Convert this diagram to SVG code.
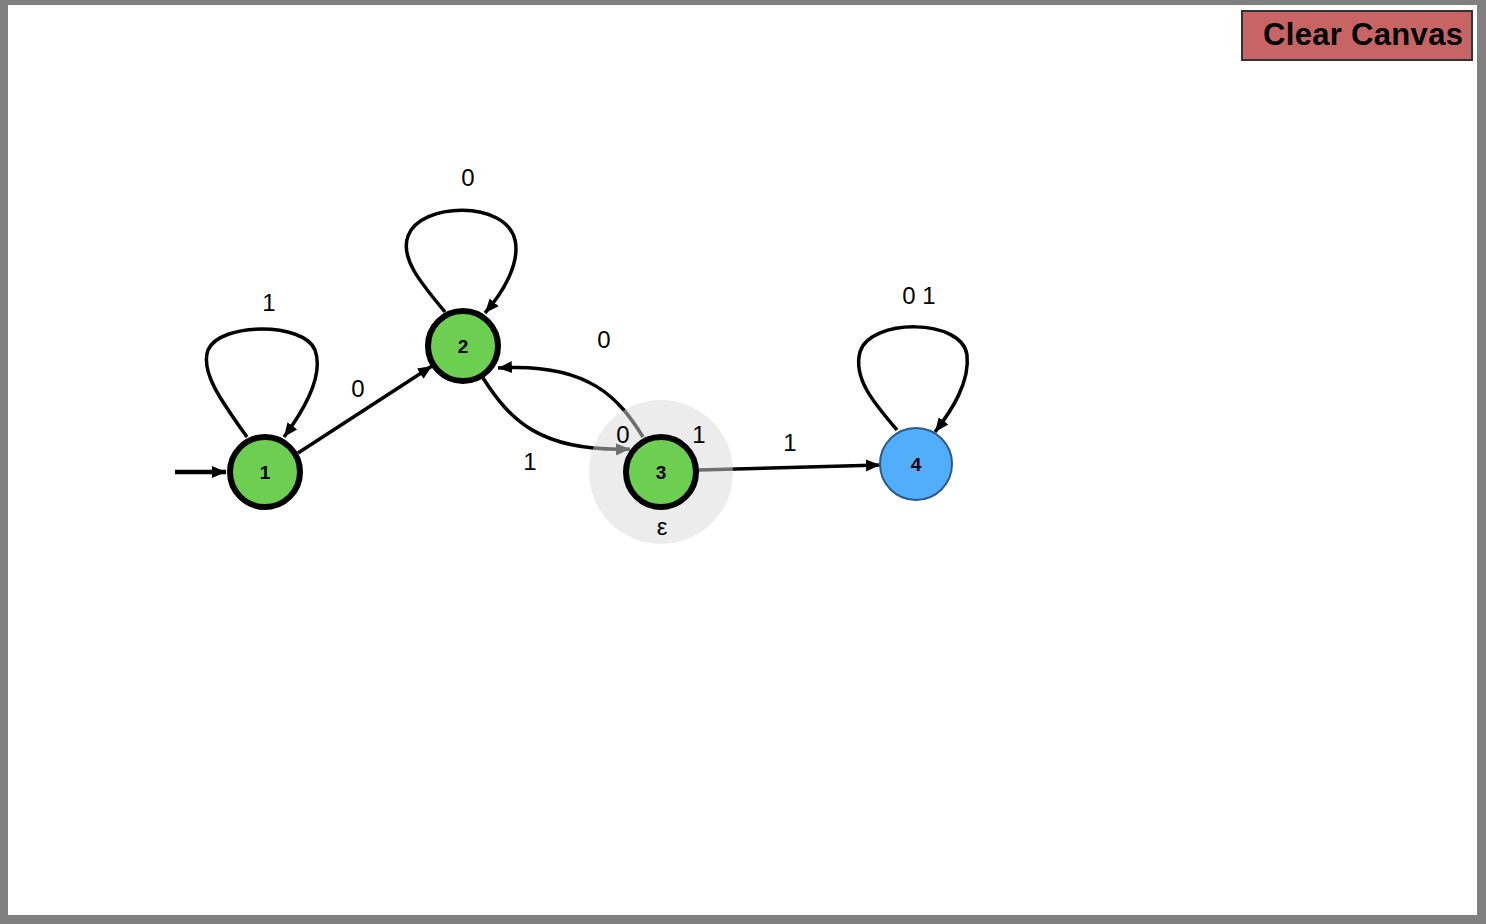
<svg xmlns="http://www.w3.org/2000/svg" width="1486" height="924" viewBox="0 0 1486 924">
<style>
.edge{fill:none;stroke:#000;stroke-width:3.5;marker-end:url(#ah)}
.elbl{font-family:"Liberation Sans",Arial,sans-serif;font-size:24px;fill:#000;text-anchor:middle}
.state{fill:#6ccf52;stroke:#000;stroke-width:6}
.nlbl{font-family:"Liberation Sans",Arial,sans-serif;font-size:19px;font-weight:bold;fill:#000;text-anchor:middle}
</style>
<defs>
<marker id="ah" markerUnits="userSpaceOnUse" markerWidth="15" markerHeight="13" refX="14" refY="6" orient="auto">
<path d="M0,0 L14,6 L0,12 z" fill="#000"/>
</marker>
</defs>
<rect x="0" y="0" width="1486" height="924" fill="#fff"/>
<path d="M0,0H1486V924H0z M8,5V915H1477V5z" fill="#808080" fill-rule="evenodd"/>
<g id="clear-canvas">
<rect x="1242" y="11" width="230" height="49" fill="#c86464" stroke="#333" stroke-width="2"/>
<text x="1363" y="45" font-family="'Liberation Sans',Arial,sans-serif" font-size="31" font-weight="bold" text-anchor="middle" fill="#000" textLength="200">Clear Canvas</text>
</g>
<g id="connectors">
<path d="M175,472 H226" fill="none" stroke="#000" stroke-width="4.5" marker-end="url(#ah)"/>
<path class="edge" d="M247,437 C222,402 200,372 208,350 C220,322 304,322 315,350 C323,372 310,402 284,437"/>
<path class="edge" d="M445,312 C420,282 400,258 408,236 C420,202 506,200 515,240 C520,262 505,290 485,313"/>
<path class="edge" d="M897,430 C873,402 853,378 860,352 C870,318 962,318 967,355 C970,382 952,410 935,432"/>
<path class="edge" d="M298,453 L432,366"/>
<path class="edge" d="M483,378 C510,420 540,452 630,449"/>
<path class="edge" d="M643,437 C620,400 590,362 498,368"/>
<path class="edge" d="M698,470 L880,465"/>
<text class="elbl" x="269" y="311">1</text>
<text class="elbl" x="468" y="186">0</text>
<text class="elbl" x="919" y="304">0 1</text>
<text class="elbl" x="358" y="397">0</text>
<text class="elbl" x="530" y="470">1</text>
<text class="elbl" x="604" y="348">0</text>
<text class="elbl" x="790" y="451">1</text>
</g>
<g id="node-1">
<circle class="state" cx="265" cy="472" r="35"/>
<text class="nlbl" x="265" y="479">1</text>
</g>
<g id="node-2">
<circle class="state" cx="463" cy="346" r="35"/>
<text class="nlbl" x="463" y="353">2</text>
</g>
<g id="node-3">
<circle cx="661" cy="472" r="72" fill="#dadada" fill-opacity="0.51"/>
<circle class="state" cx="661" cy="472" r="35"/>
<text class="nlbl" x="661" y="479">3</text>
<text class="elbl" x="623" y="443">0</text>
<text class="elbl" x="699" y="443">1</text>
<text class="elbl" x="662" y="535">ε</text>
</g>
<g id="node-4">
<circle cx="916" cy="464" r="36" fill="#52aefb" stroke="#2a5a8a" stroke-width="2"/>
<text class="nlbl" x="916" y="471">4</text>
</g>
</svg>
